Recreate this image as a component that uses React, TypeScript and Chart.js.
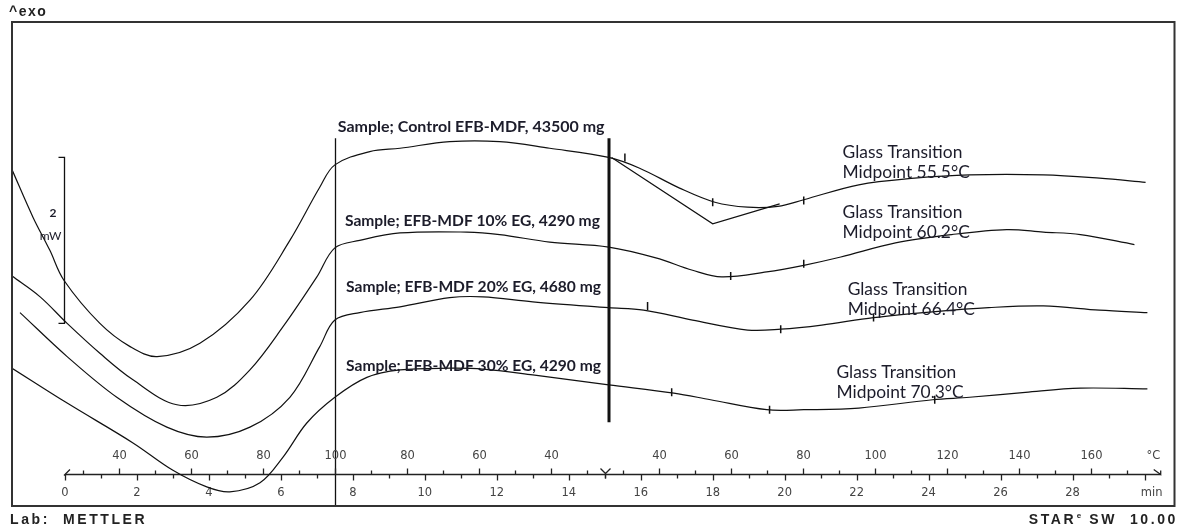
import React, { useEffect, useRef } from "react";
import { Chart, registerables } from "chart.js";
Chart.register(...registerables);

// ---- Data: time (min) vs heat flow (mW, arbitrary offset) ----
const controlTime = [-1.47, -0.89, -0.42, -0.03, 0.97, 1.81, 2.56, 3.75, 5.14, 6.25, 7.08, 7.5, 8.47, 9.31, 10.69, 12.08, 13.47, 15.11, 15.97, 17.08, 18.06, 18.97, 19.81, 20.53, 22.06, 23.61, 25.14, 27.19, 28.75, 30.03];
const controlFlow = [4.05, 3.48, 3.08, 2.72, 2.2, 1.92, 1.8, 1.96, 2.48, 3.2, 3.84, 4.11, 4.27, 4.31, 4.39, 4.39, 4.31, 4.2, 4.07, 3.83, 3.66, 3.6, 3.61, 3.69, 3.87, 3.95, 3.99, 3.99, 3.95, 3.9];

const eg10Time = [-1.47, -0.69, 0.06, 0.97, 1.89, 3.11, 4.22, 5.14, 6.06, 7.0, 7.5, 8.19, 9.31, 11.17, 12.08, 13.47, 15.11, 16.42, 17.44, 18.25, 19.5, 20.53, 21.56, 23.08, 24.64, 26.17, 27.19, 28.22, 29.72];
const eg10Flow = [2.77, 2.52, 2.2, 1.84, 1.52, 1.22, 1.31, 1.64, 2.16, 2.76, 3.11, 3.2, 3.29, 3.3, 3.27, 3.18, 3.12, 2.99, 2.84, 2.76, 2.82, 2.9, 3.0, 3.17, 3.27, 3.33, 3.3, 3.27, 3.15];

const eg20Time = [-1.25, 0.06, 1.44, 2.83, 3.94, 5.14, 6.25, 7.08, 7.5, 8.19, 9.31, 10.69, 11.61, 13.0, 15.11, 16.08, 17.44, 18.97, 19.89, 21.03, 22.47, 24.11, 25.67, 27.19, 28.75, 30.08];
const eg20Flow = [2.33, 1.8, 1.31, 0.95, 0.83, 0.95, 1.31, 1.92, 2.24, 2.33, 2.4, 2.51, 2.52, 2.46, 2.39, 2.36, 2.24, 2.12, 2.13, 2.18, 2.27, 2.34, 2.39, 2.41, 2.36, 2.33];

const eg30Time = [-1.47, 0.06, 1.89, 3.0, 3.94, 4.58, 5.42, 6.06, 6.72, 7.5, 8.39, 9.31, 10.69, 11.61, 13.0, 15.11, 16.92, 17.94, 19.5, 20.53, 22.06, 24.11, 25.14, 26.69, 28.22, 30.08];
const eg30Flow = [1.66, 1.24, 0.76, 0.43, 0.23, 0.17, 0.28, 0.59, 1.0, 1.31, 1.55, 1.64, 1.66, 1.65, 1.58, 1.46, 1.36, 1.28, 1.16, 1.16, 1.18, 1.28, 1.31, 1.37, 1.42, 1.41];

// Glass transition construction line (control)
const controlTangentTime = [15.19, 18.0, 19.86];
const controlTangentFlow = [4.2, 3.4, 3.64];

// Evaluation limit / midpoint markers
const markerTime = [15.56, 18.0, 20.53, 18.5, 20.53, 16.19, 19.89, 22.47, 16.86, 19.58, 24.17];
const markerFlow = [4.2, 3.66, 3.68, 2.77, 2.92, 2.41, 2.13, 2.27, 1.37, 1.16, 1.28];

// Temperature program (min, °C)
const programTime = [0, 7.5, 15, 30.5];
const programTemp = [25, 100, 25, 180];

const timeTickLabels = ["0", "2", "4", "6", "8", "10", "12", "14", "16", "18", "20", "22", "24", "26", "28"];

const sampleNames = [
  "Sample; Control EFB-MDF, 43500 mg",
  "Sample; EFB-MDF 10% EG, 4290 mg",
  "Sample; EFB-MDF 20% EG, 4680 mg",
  "Sample; EFB-MDF 30% EG, 4290 mg",
];
const tgMidpoints = ["55.5", "60.2", "66.4", "70.3"];

// annotation anchors (time, mW)
const sampleAnchorTime = [7.58, 7.78, 7.81, 7.81];
const sampleAnchorFlow = [4.566, 3.434, 2.639, 1.687];
const tgAnchorTime = [21.61, 21.61, 21.75, 21.44];
const tgAnchorFlow = [4.265, 3.542, 2.614, 1.614];

const scaleBarTime = -0.03;
const scaleBarFrom = 2.2;
const scaleBarSpan = 2;

const segmentLineTime = [7.5, 15.11];

const toXY = (xs: number[], ys: number[]) => xs.map((x, i) => ({ x, y: ys[i] }));

const TEXT = "#1c1c2a";

const decorPlugin = {
  id: "decor",
  beforeDatasetsDraw(chart: any) {
    const { ctx, chartArea: a, scales } = chart;
    const xs = scales.x;
    const ys = scales.y;
    ctx.save();
    // Segment lines
    ctx.strokeStyle = "#111";
    ctx.lineWidth = 1.3;
    let px = Math.round(xs.getPixelForValue(segmentLineTime[0])) + 0.5;
    ctx.beginPath();
    ctx.moveTo(px, ys.getPixelForValue(4.43));
    ctx.lineTo(px, a.bottom);
    ctx.stroke();
    ctx.lineWidth = 3;
    px = Math.round(xs.getPixelForValue(segmentLineTime[1]));
    ctx.beginPath();
    ctx.moveTo(px, ys.getPixelForValue(4.43));
    ctx.lineTo(px, ys.getPixelForValue(1.01));
    ctx.stroke();

    // Scale bar
    ctx.lineWidth = 1.3;
    const sx = Math.round(xs.getPixelForValue(scaleBarTime)) + 0.5;
    const sy0 = ys.getPixelForValue(scaleBarFrom + scaleBarSpan);
    const sy1 = ys.getPixelForValue(scaleBarFrom);
    ctx.beginPath();
    ctx.moveTo(sx - 6, sy0);
    ctx.lineTo(sx, sy0);
    ctx.lineTo(sx, sy1);
    ctx.lineTo(sx - 6, sy1);
    ctx.stroke();
    ctx.fillStyle = TEXT;
    ctx.font = "bold 12px Lato";
    ctx.textAlign = "right";
    ctx.textBaseline = "middle";
    ctx.fillText(String(scaleBarSpan), sx - 8, (sy0 + sy1) / 2 - 27);
    ctx.font = "12px Lato";
    ctx.fillText("mW", sx - 3, (sy0 + sy1) / 2 - 4);

    // Bottom axis
    const ay = a.bottom - 32 + 0.5;
    const x0 = xs.getPixelForValue(0);
    const xEnd = xs.getPixelForValue(30.45);
    ctx.strokeStyle = "#222";
    ctx.lineWidth = 1.3;
    ctx.beginPath();
    ctx.moveTo(x0, ay);
    ctx.lineTo(xEnd, ay);
    ctx.stroke();
    ctx.beginPath();
    ctx.moveTo(x0 - 1, ay + 1);
    ctx.lineTo(x0 + 5, ay - 5);
    ctx.moveTo(xEnd - 7, ay - 5);
    ctx.lineTo(xEnd, ay);
    ctx.lineTo(xEnd, ay - 4);
    ctx.stroke();

    ctx.font = "11.5px 'DejaVu Sans'";
    ctx.fillStyle = "#444";
    ctx.textAlign = "center";
    // time ticks
    for (let m = 0; m <= 30; m++) {
      const tx = Math.round(xs.getPixelForValue(m)) + 0.5;
      const len = m % 2 === 0 ? 6 : 4;
      ctx.beginPath();
      ctx.moveTo(tx, ay);
      ctx.lineTo(tx, ay + len);
      ctx.stroke();
    }
    timeTickLabels.forEach((lab) => {
      const tx = xs.getPixelForValue(Number(lab));
      ctx.fillText(lab, tx, ay + 19);
    });
    ctx.fillText("min", xs.getPixelForValue(30.2), ay + 19);

    // temperature ticks from the temperature program
    const seen = new Set<string>();
    for (let i = 0; i < programTime.length - 1; i++) {
      const t0 = programTime[i], t1 = programTime[i + 1];
      const T0 = programTemp[i], T1 = programTemp[i + 1];
      const lo = Math.min(T0, T1), hi = Math.max(T0, T1);
      for (let T = Math.ceil(lo / 10) * 10; T <= hi; T += 10) {
        const t = t0 + ((T - T0) / (T1 - T0)) * (t1 - t0);
        const key = t.toFixed(2);
        if (seen.has(key) || t > 30.2) continue;
        seen.add(key);
        const tx = Math.round(xs.getPixelForValue(t)) + 0.5;
        const major = T % 20 === 0;
        ctx.beginPath();
        ctx.moveTo(tx, ay);
        ctx.lineTo(tx, ay - (major ? 6 : 4));
        ctx.stroke();
        if (major) ctx.fillText(String(T), tx, ay - 18);
      }
    }
    ctx.fillText("°C", xs.getPixelForValue(30.25), ay - 18);
    // segment boundary mark
    const yx = Math.round(xs.getPixelForValue(programTime[2])) + 0.5;
    ctx.beginPath();
    ctx.moveTo(yx - 5, ay - 6);
    ctx.lineTo(yx, ay - 1);
    ctx.lineTo(yx + 5, ay - 6);
    ctx.moveTo(yx, ay - 1);
    ctx.lineTo(yx, ay + 4);
    ctx.stroke();
    ctx.restore();
  },
  afterDatasetsDraw(chart: any) {
    const { ctx, chartArea: a, scales } = chart;
    const xs = scales.x;
    const ys = scales.y;
    ctx.save();
    // sample labels
    ctx.fillStyle = TEXT;
    ctx.textAlign = "left";
    ctx.textBaseline = "middle";
    sampleNames.forEach((s, i) => {
      ctx.font = i === 0 ? "bold 16px Lato" : "bold 15.6px Lato";
      ctx.fillText(s, xs.getPixelForValue(sampleAnchorTime[i]), ys.getPixelForValue(sampleAnchorFlow[i]));
    });
    ctx.font = "17.4px Lato";
    tgMidpoints.forEach((v, i) => {
      const tx = xs.getPixelForValue(tgAnchorTime[i]);
      const ty = ys.getPixelForValue(tgAnchorFlow[i]);
      ctx.fillText("Glass Transition", tx, ty);
      ctx.fillText("Midpoint " + v + "°C", tx, ty + 20);
    });
    // frame
    ctx.strokeStyle = "#333";
    ctx.lineWidth = 2;
    ctx.strokeRect(a.left, a.top, a.right - a.left, a.bottom - a.top);
    // outside texts
    ctx.fillStyle = "#222";
    ctx.font = "bold 14px 'Liberation Sans'";
    ctx.textAlign = "left";
    (ctx as any).letterSpacing = "1.5px";
    ctx.fillText("^exo", 9, 12);
    (ctx as any).letterSpacing = "2.6px";
    ctx.font = "bold 14px 'Liberation Sans'";
    ctx.fillText("Lab:  METTLER", 10, 520);
    ctx.textAlign = "right";
    ctx.fillText("SW  10.00", 1178, 520);
    const w = ctx.measureText("SW  10.00").width;
    ctx.font = "bold 8px 'Liberation Sans'";
    (ctx as any).letterSpacing = "0px";
    ctx.fillText("e", 1178 - w - 8, 516);
    ctx.font = "bold 14px 'Liberation Sans'";
    (ctx as any).letterSpacing = "2.6px";
    ctx.fillText("STAR", 1178 - w - 13, 520);
    ctx.restore();
  },
};

export default function App() {
  const ref = useRef<HTMLCanvasElement>(null);
  useEffect(() => {
    if (!ref.current) return;
    const line = (xs: number[], ys: number[], tension = 0.35) => ({
      type: "line" as const,
      data: toXY(xs, ys),
      borderColor: "#111",
      borderWidth: 1.2,
      pointRadius: 0,
      tension,
      fill: false,
    });
    const chart = new Chart(ref.current, {
      type: "line",
      data: {
        datasets: [
          line(controlTime, controlFlow),
          line(eg10Time, eg10Flow),
          line(eg20Time, eg20Flow),
          line(eg30Time, eg30Flow),
          line(controlTangentTime, controlTangentFlow, 0),
          {
            type: "scatter" as const,
            data: toXY(markerTime, markerFlow),
            pointStyle: "line",
            rotation: 90,
            radius: 4,
            borderColor: "#111",
            borderWidth: 1.5,
          } as any,
        ],
      },
      options: {
        animation: false,
        responsive: false,
        devicePixelRatio: 1,
        layout: { padding: { left: 12, top: 22, right: 5, bottom: 25 } },
        plugins: { legend: { display: false }, tooltip: { enabled: false } },
        scales: {
          x: { type: "linear", display: false, min: -53 / 36, max: 1110 / 36 },
          y: { type: "linear", display: false, min: 0, max: 484 / 83 },
        },
      },
      plugins: [decorPlugin],
    });
    return () => chart.destroy();
  }, []);
  return (
    <div style={{ position: "fixed", left: 0, top: 0, width: 1180, height: 531, background: "#fff" }}>
      <canvas ref={ref} width={1180} height={531} style={{ display: "block" }} />
    </div>
  );
}
